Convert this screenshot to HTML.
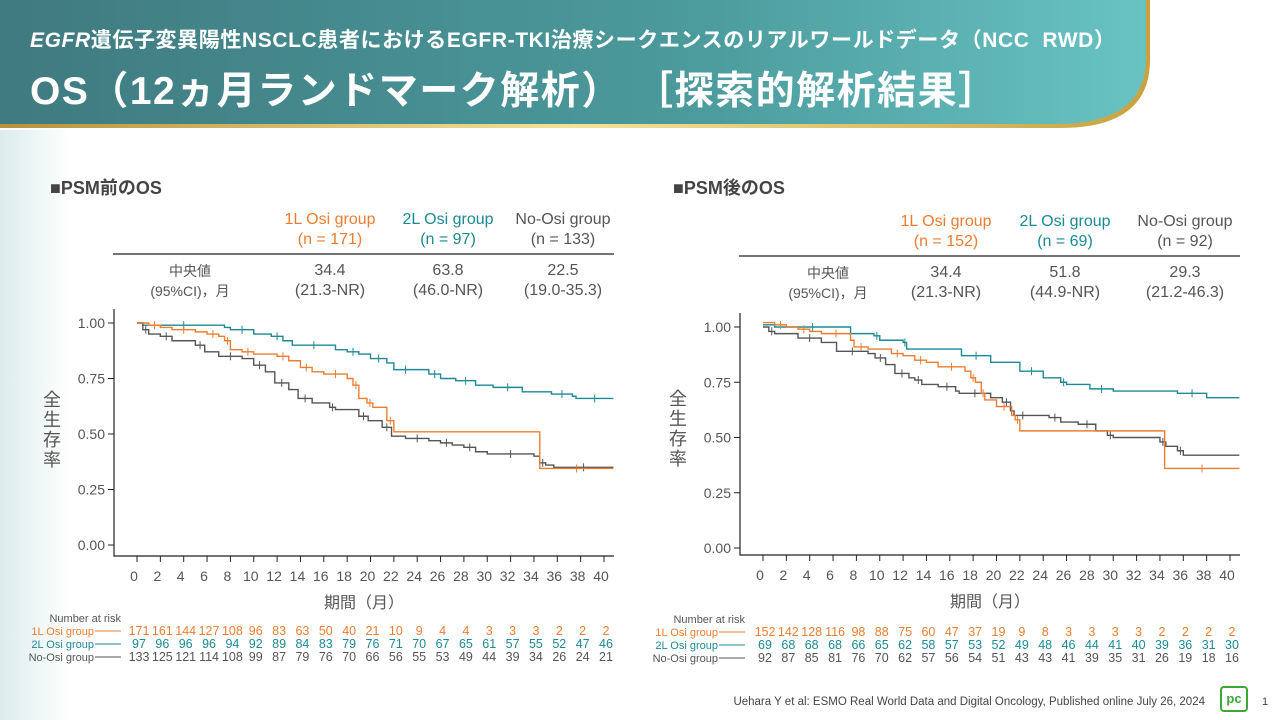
<!DOCTYPE html>
<html><head><meta charset="utf-8">
<style>
body{margin:0;width:1280px;height:720px;overflow:hidden;font-family:"Liberation Sans","Noto Sans CJK JP",sans-serif;background:#fff;position:relative}
.bgl{position:absolute;left:0;top:130px;width:70px;height:590px;background:linear-gradient(90deg,#dcecec,#fff)}
.hdr{position:absolute;left:0;top:0;width:1280px;height:135px}
.t1{position:absolute;left:30px;top:24px;color:#fff;font-size:21px;font-weight:bold;white-space:nowrap;letter-spacing:0.6px}
.t2{position:absolute;left:30px;top:60px;color:#fff;font-size:39px;font-weight:bold;white-space:nowrap;letter-spacing:1.5px}
.abs{position:absolute;white-space:nowrap}
.sec{font-size:18px;font-weight:bold;color:#444}
.c{transform:translateX(-50%);text-align:center;font-size:16px;line-height:20px}
.o{color:#ED7D31}.tl{color:#1B8A94}.g{color:#555}
</style></head><body>
<div class="bgl"></div>
<svg class="hdr" width="1280" height="135">
<defs><linearGradient id="hg" x1="0" x2="1"><stop offset="0" stop-color="#3f7a80"/><stop offset="0.6" stop-color="#4b9a9c"/><stop offset="1" stop-color="#69c3c3"/></linearGradient>
<linearGradient id="gd" x1="0" x2="1"><stop offset="0" stop-color="#b8913a"/><stop offset="0.5" stop-color="#f3e39a"/><stop offset="1" stop-color="#c9a23f"/></linearGradient></defs>
<path d="M0 0 H1150 V60 Q1150 128 1060 128 H0Z" fill="url(#gd)"/>
<path d="M0 0 H1146 V58 Q1146 124 1056 124 H0Z" fill="url(#hg)"/>
</svg>
<div class="t1"><i>EGFR</i>遺伝子変異陽性NSCLC患者におけるEGFR-TKI治療シークエンスのリアルワールドデータ（NCC&nbsp; RWD）</div>
<div class="t2">OS（12ヵ月ランドマーク解析）&nbsp;［探索的解析結果］</div>

<div class="abs sec" style="left:50px;top:174px">■PSM前のOS</div>
<div class="abs sec" style="left:673px;top:174px">■PSM後のOS</div>

<div id="root"></div>
<svg id="plot" class="abs" style="left:0;top:0" width="1280" height="720"></svg>

<div class="abs" style="right:75px;top:696px;font-size:11.5px;color:#444">Uehara Y et al: ESMO Real World Data and Digital Oncology, Published online July 26, 2024</div>
<div class="abs" style="left:1220px;top:686px;width:24px;height:22px;border:2px solid #3aa832;border-radius:4px;color:#3aa832;font-weight:bold;font-size:13px;text-align:center;line-height:22px">pc</div>
<div class="abs" style="left:1262px;top:696px;font-size:11px;color:#444">1</div>

<script>
const O='#ED7D31',T='#1B8A94',G='#555';
const root=document.getElementById('root');
function txt(x,y,s,cls,extra){const d=document.createElement('div');d.className='abs '+cls;d.style.left=x+'px';d.style.top=y+'px';if(extra)d.style.cssText+=extra;d.innerHTML=s;root.appendChild(d);}
const svg=document.getElementById('plot');let S='';
function panel(p){
 const {ax,x0,x40,y1,y0,xl,yb,cols,ns,meds,lab,risk,curves,rowy}=p;
 const sx=m=>x0+(x40-x0)*m/40, sy=v=>y0+(y1-y0)*v;
 const names=['1L Osi group','2L Osi group','No-Osi group'],cc=['o','tl','g'];
 for(let i=0;i<3;i++){txt(cols[i],p.ty,names[i]+'<br>(n = '+ns[i]+')','c '+cc[i]);
  txt(cols[i],p.ty+51,meds[i][0]+'<br>('+meds[i][1]+')','c g');}
 txt(lab,p.ty+51,'中央値<br><span style="font-size:14px">(95%CI)，月</span>','c g','font-size:14px');
 S+=`<line x1="${ax-1}" x2="${xl}" y1="${p.ty+44}" y2="${p.ty+44}" stroke="#222" stroke-width="1.3"/>`;
 S+=`<path d="M${ax} ${y1-14} V${yb} H${xl}" fill="none" stroke="#222" stroke-width="1.2"/>`;
 [0,0.25,0.5,0.75,1].forEach(v=>{const y=sy(v);S+=`<line x1="${ax-6}" x2="${ax}" y1="${y}" y2="${y}" stroke="#222"/><text x="${ax-9}" y="${y+5}" font-size="14" fill="#555" text-anchor="end">${v.toFixed(2)}</text>`;});
 for(let m=0;m<=40;m+=2){const x=sx(m);S+=`<line x1="${x}" x2="${x}" y1="${yb}" y2="${yb+6}" stroke="#222"/><text x="${x-3}" y="${yb+25}" font-size="14" fill="#555" text-anchor="middle">${m}</text>`;}
 S+=`<text x="${(ax+xl)/2}" y="${yb+52}" font-size="16" fill="#555" text-anchor="middle">期間（月）</text>`;
 '全生存率'.split('').forEach((c,i)=>S+=`<text x="${ax-62}" y="${yb-150+i*20}" font-size="18" fill="#555" text-anchor="middle">${c}</text>`);
 [[curves[1],T],[curves[2],G],[curves[0],O]].forEach(([pts,col])=>{
  let d=`M${sx(pts[0][0])} ${sy(pts[0][1])}`;
  for(let i=1;i<pts.length;i++){d+=` H${sx(pts[i][0])} V${sy(pts[i][1])}`;}
  S+=`<path d="${d}" fill="none" stroke="${col}" stroke-width="1.4"/>`;
  for(let i=1;i<pts.length-1;i+=2){const x=sx((pts[i][0]+pts[i+1][0])/2),y=sy(pts[i][1]);S+=`<line x1="${x}" x2="${x}" y1="${y-4}" y2="${y+4}" stroke="${col}"/>`;}
 });
 S+=`<text x="${p.rl+26}" y="${rowy-13}" font-size="11" fill="#555" text-anchor="end">Number at risk</text>`;
 const rc=[O,T,G];
 for(let r=0;r<3;r++){const y=rowy+r*13;
  S+=`<text x="${p.rl-1}" y="${y}" font-size="11" fill="${rc[r]}" text-anchor="end">${names[r]}</text><line x1="${p.rl}" x2="${p.rl+26}" y1="${y-4}" y2="${y-4}" stroke="${rc[r]}"/>`;
  risk[r].forEach((n,i)=>S+=`<text x="${sx(i*2)+2}" y="${y}" font-size="12.5" fill="${rc[r]}" text-anchor="middle">${n}</text>`);}
}
panel({ax:114,x0:137,x40:604,y1:323,y0:545,xl:614,yb:556,ty:210,cols:[330,448,563],lab:190,rl:95,rowy:635,
 ns:[171,97,133],meds:[['34.4','21.3-NR'],['63.8','46.0-NR'],['22.5','19.0-35.3']],
 risk:[[171,161,144,127,108,96,83,63,50,40,21,10,9,4,4,3,3,3,2,2,2],[97,96,96,96,94,92,89,84,83,79,76,71,70,67,65,61,57,55,52,47,46],[133,125,121,114,108,99,87,79,76,70,66,56,55,53,49,44,39,34,26,24,21]],
 curves:[
 [[0,1],[1,.99],[2,.98],[3,.97],[5,.96],[6,.95],[7,.94],[7.5,.92],[8,.88],[9,.87],[10,.86],[12,.85],[13,.83],[14,.80],[15,.78],[16,.77],[18,.75],[18.5,.72],[19,.66],[19.7,.64],[20.2,.62],[21.4,.56],[22,.51],[34.5,.345],[40.8,.345]],
 [[0,1],[.5,.99],[7.5,.98],[8,.97],[10,.95],[11.5,.94],[12.5,.92],[13.3,.90],[17,.88],[18,.87],[19,.86],[20,.84],[21.4,.82],[22,.79],[24,.79],[25,.77],[26,.75],[27.3,.74],[29,.72],[30.5,.71],[33,.69],[35.5,.68],[37.3,.67],[37.6,.66],[40.8,.66]],
 [[0,1],[.5,.97],[1,.95],[2,.94],[3,.92],[5,.90],[5.8,.87],[7,.85],[9,.84],[10,.81],[11,.78],[11.8,.73],[13,.70],[13.8,.66],[15,.64],[16.5,.62],[17,.61],[19,.58],[19.8,.56],[21,.53],[21.8,.49],[23,.48],[25,.47],[26,.46],[27,.45],[28,.44],[29,.42],[30,.41],[34,.40],[34.5,.37],[35,.36],[35.7,.35],[40.8,.35]]]
});
panel({ax:740,x0:763,x40:1230,y1:327,y0:548,xl:1240,yb:555,ty:212,cols:[946,1065,1185],lab:828,rl:719,rowy:636,
 ns:[152,69,92],meds:[['34.4','21.3-NR'],['51.8','44.9-NR'],['29.3','21.2-46.3']],
 risk:[[152,142,128,116,98,88,75,60,47,37,19,9,8,3,3,3,3,2,2,2,2],[69,68,68,68,66,65,62,58,57,53,52,49,48,46,44,41,40,39,36,31,30],[92,87,85,81,76,70,62,57,56,54,51,43,43,41,39,35,31,26,19,18,16]],
 curves:[
 [[0,1.02],[1,1.01],[2,1.0],[3,.99],[4,.98],[5,.97],[7.5,.94],[7.8,.91],[9,.90],[11,.88],[12,.87],[13,.85],[14,.84],[15,.82],[17.3,.80],[17.8,.77],[18.2,.75],[18.7,.70],[19,.67],[20,.64],[21.3,.60],[21.6,.58],[22,.53],[34.4,.36],[40.8,.36]],
 [[0,1.01],[1,1.0],[7.5,.97],[9.5,.96],[10,.94],[12,.93],[12.3,.90],[17,.87],[19.5,.84],[22,.80],[24,.77],[25.5,.75],[26,.74],[28,.72],[30,.71],[35.5,.70],[38,.68],[40.8,.68]],
 [[0,1.0],[.5,.98],[1,.97],[3,.95],[5,.93],[6.3,.89],[9,.88],[9.6,.86],[10.5,.83],[11.3,.79],[12.5,.77],[13,.76],[13.6,.74],[15,.73],[16.5,.71],[16.8,.70],[19.5,.68],[20.5,.66],[21.2,.62],[21.5,.60],[23,.60],[24.5,.59],[25.5,.57],[27,.56],[28.5,.53],[29.5,.51],[30,.50],[34,.48],[34.5,.46],[35.5,.44],[36,.42],[40.8,.42]]]
});
svg.innerHTML=S;
</script>
</body></html>
